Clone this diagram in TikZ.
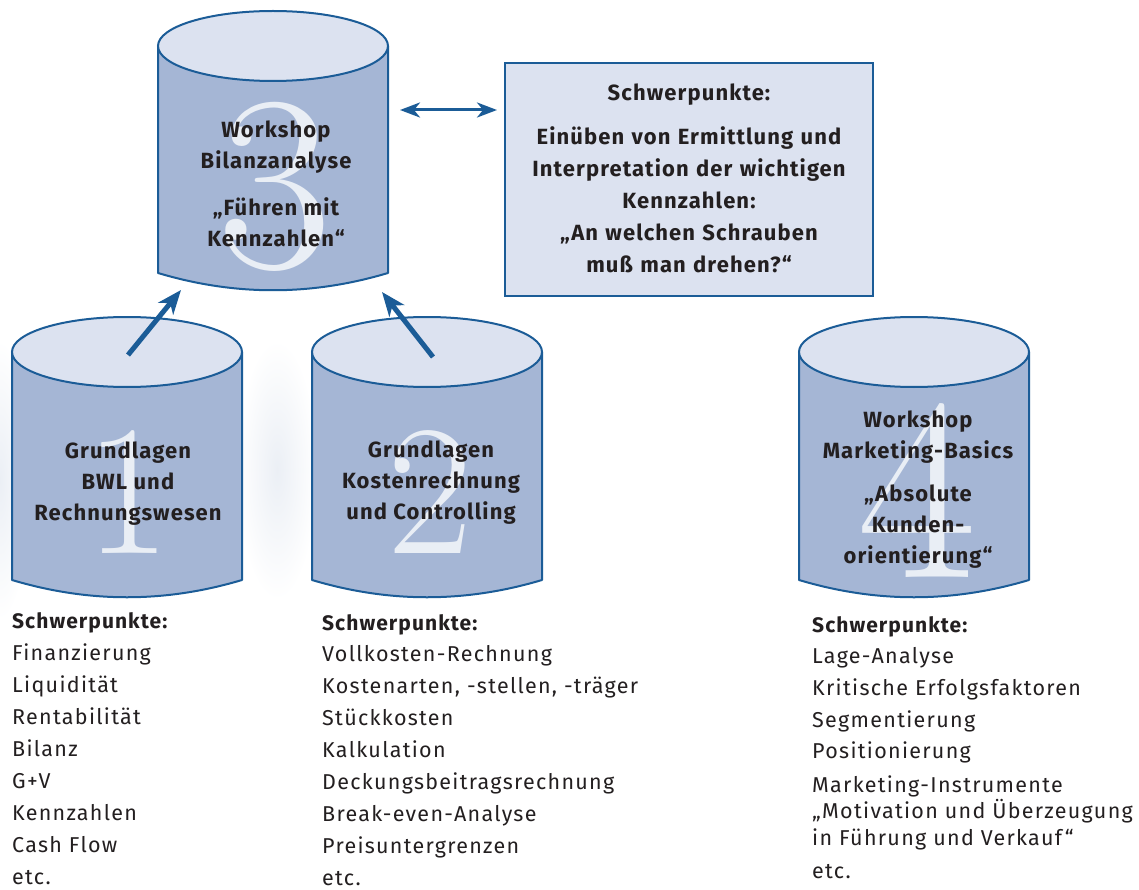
\documentclass[tikz,border=0pt]{standalone}
\usepackage{fontspec}
\newfontfamily\fira{Fira Sans}[LetterSpace=5]
\newfontfamily\firalist{Fira Sans}[LetterSpace=6]
\usetikzlibrary{arrows.meta}
\definecolor{cylblue}{HTML}{1B5C97}
\definecolor{bodyfill}{HTML}{A5B6D5}
\definecolor{topfill}{HTML}{DCE2F0}
\definecolor{digitcol}{HTML}{E9EEF5}
\definecolor{txt}{HTML}{231F20}
\definecolor{haze}{HTML}{EBEFF5}
\tikzset{
  cylbody/.style={fill=bodyfill, draw=cylblue, line width=2pt, line join=round},
  cyltop/.style={fill=topfill, draw=cylblue, line width=2pt},
  cyltext/.style={font=\fira\bfseries\fontsize{22}{31}\selectfont, text=txt, align=center, inner sep=0pt},
  bigdigit/.style={font=\rmfamily\fontsize{#1}{#1}\selectfont, text=digitcol, inner sep=0pt},
  listhead/.style={font=\fira\bfseries\fontsize{21}{21}\selectfont, text=txt, anchor=base west, inner sep=0pt},
  listitem/.style={font=\firalist\fontsize{21.5}{21.5}\selectfont, text=txt, anchor=base west, inner sep=0pt},
  flowarrow/.style={draw=cylblue, line width=5pt, -{Stealth[length=24pt,width=19pt,inset=7pt]}},
  linkarrow/.style={draw=cylblue, line width=3pt, {Stealth[length=20pt,width=15pt,inset=6pt]}-{Stealth[length=20pt,width=15pt,inset=6pt]}},
  notebox/.style={fill=topfill, draw=cylblue, line width=2pt},
}
% #1 name, #2 left x, #3 right x, #4 top ellipse centre y, #5 side bottom y
\newcommand{\mycyl}[5]{%
  \path[cylbody] (#2,#4) -- (#2,#5) .. controls ({#2+77},{#5+23}) and ({#3-77},{#5+23}) .. (#3,#5) -- (#3,#4) -- cycle;
  \path[cyltop] ({(#2+#3)/2},#4) ellipse [x radius={(#3-#2)/2}, y radius=35];
  \coordinate (#1) at ({(#2+#3)/2},#4);
}
\begin{document}
\begin{tikzpicture}[x=1pt,y=-1pt]
\useasboundingbox (0,0) rectangle (1139,890);
\fill[white] (0,0) rectangle (1139,890);
% faint background haze
\shade[inner color=haze, outer color=white] (277,470) ellipse [x radius=40, y radius=130];
\shade[inner color=haze, outer color=white] (0,480) ellipse [x radius=30, y radius=140];

% cylinders
\mycyl{cyl3}{158}{388}{46}{273}
\mycyl{cyl1}{12}{242}{352}{580}
\mycyl{cyl2}{312}{542}{352}{580}
\mycyl{cyl4}{799}{1029}{352}{580}

% big digits
\node[bigdigit=250] (d3) at (275,187) {3};
\node[bigdigit=186] (d1) at (128,492) {1};
\node[bigdigit=186] (d2) at (430,492) {2};
\node[bigdigit=260] (d4) at (917,491) {4};

% cylinder texts
\node[cyltext] (t3) at (276,184) {Workshop\\Bilanzanalyse\\[16pt]„Führen mit\\Kennzahlen“};
\node[cyltext] (t1) at (128,484) {Grundlagen\\BWL und\\Rechnungswesen};
\node[cyltext] (t2) at (431,483) {Grundlagen\\Kostenrechnung\\und Controlling};
\node[cyltext] (t4) at (918,490) {Workshop\\Marketing-Basics\\[12pt]„Absolute\\Kunden-\\orientierung“};

% note box
\draw[notebox] (505,63) rectangle (873,296);
\node[cyltext, text width=360pt, font=\fira\bfseries\fontsize{22}{32}\selectfont] (box) at (689,178)
  {Schwerpunkte:\\[12pt]Einüben von Ermittlung und\\Interpretation der wichtigen\\Kennzahlen:\\„An welchen Schrauben\\muß man drehen?“};

% connectors
\coordinate (lkL) at (400,110);
\coordinate (lkR) at (497,110);
\draw[linkarrow] (lkL) -- (lkR);
\coordinate (a1s) at (128,355);
\coordinate (a1e) at (181,290);
\coordinate (a2s) at (433,357);
\coordinate (a2e) at (382,292);
\draw[flowarrow] (a1s) -- (a1e);
\draw[flowarrow] (a2s) -- (a2e);

% lists
\node[listhead] (h1) at (12,628) {Schwerpunkte:};
\foreach \t [count=\i] in {Finanzierung, Liquidität, Rentabilität, Bilanz, G+V, Kennzahlen, Cash Flow, etc.}
  \node[listitem] (la\i) at (12,{628+32.1*\i}) {\t};

\node[listhead] (h2) at (322,630) {Schwerpunkte:};
\foreach \t [count=\i] in {Vollkosten-Rechnung, {Kostenarten, -stellen, -träger}, Stückkosten, Kalkulation, Deckungsbeitragsrechnung, Break-even-Analyse, Preisuntergrenzen, etc.}
  \node[listitem] (lb\i) at (322,{630+31.9*\i}) {\t};

\node[listhead] (h3) at (812,632) {Schwerpunkte:};
\foreach \y/\t [count=\i] in {663/Lage-Analyse, 695/Kritische Erfolgsfaktoren, 727/Segmentierung, 758/Positionierung, 792/Marketing-Instrumente, 818/„Motivation und Überzeugung, 845/in Führung und Verkauf“, 878/etc.}
  \node[listitem] (lc\i) at (812,\y) {\t};
\end{tikzpicture}
\end{document}
